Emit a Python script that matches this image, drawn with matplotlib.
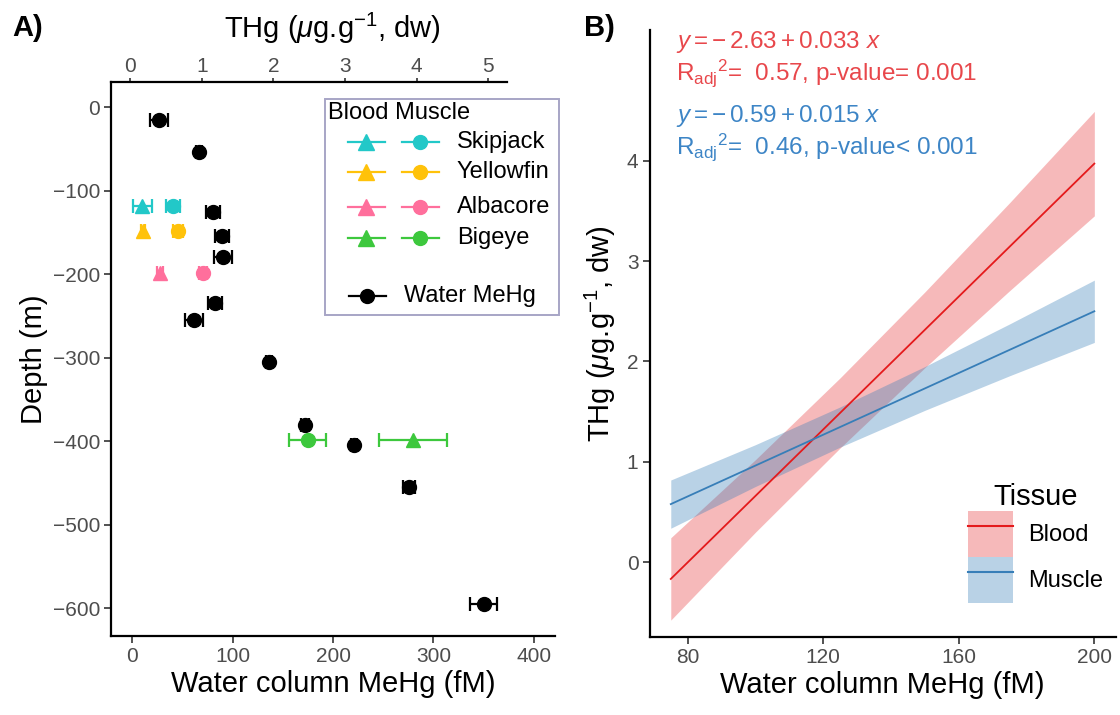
import matplotlib
matplotlib.use('Agg')
import matplotlib.pyplot as plt
from matplotlib.lines import Line2D
from matplotlib.patches import Patch, Rectangle
from matplotlib.legend_handler import HandlerTuple

plt.rcParams['font.family'] = ['Liberation Sans', 'DejaVu Sans']
plt.rcParams['mathtext.fontset'] = 'custom'
plt.rcParams['mathtext.rm'] = 'Liberation Sans'
plt.rcParams['mathtext.it'] = 'Liberation Sans:italic'
plt.rcParams['mathtext.bf'] = 'Liberation Sans:bold'

# ---- panel A data ----
water_mehg = [26.9, 66, 80.6, 89.6, 90.2, 82.3, 61.7, 136.3, 172.5, 220.6, 275.6, 350]
water_err = [9, 3, 7, 7, 9, 7, 9, 3, 4, 3, 6, 13.6]
water_depth = [-15, -54, -125, -154, -180, -235, -255, -305, -380, -405, -455, -595]

species = ['Skipjack', 'Yellowfin', 'Albacore', 'Bigeye']
species_colors = ['#22C8C8', '#FFC20A', '#FF6F9C', '#3DC83D']
species_depth = [-118, -148, -199, -399]
blood_thg = [0.17, 0.18, 0.415, 3.95]
blood_err = [0.13, 0.03, 0.04, 0.48]
muscle_thg = [0.60, 0.66, 1.02, 2.48]
muscle_err = [0.10, 0.07, 0.056, 0.26]

# THg (ug/g) <-> water MeHg (fM) scaling of the secondary axis
scale_k = 71.3
scale_off = 2.0

def thg_to_fm(v):
    return v * scale_k - scale_off

def fm_to_thg(v):
    return (v + scale_off) / scale_k

# ---- panel B data ----
fit_x = [75, 100, 125, 150, 175, 200]
blood_fit = [-0.165, 0.662, 1.489, 2.316, 3.143, 3.97]
blood_lo = [-0.575, 0.301, 1.14, 1.939, 2.705, 3.45]
blood_hi = [0.245, 1.023, 1.838, 2.693, 3.581, 4.49]
muscle_fit = [0.58, 0.964, 1.348, 1.732, 2.116, 2.50]
muscle_lo = [0.34, 0.756, 1.148, 1.514, 1.858, 2.19]
muscle_hi = [0.82, 1.172, 1.548, 1.95, 2.374, 2.81]

red = '#E41A1C'
blue = '#377EB8'
tick_col = '#4D4D4D'
tick_fs = 15
title_fs = 21
leg_fs = 17

fig = plt.figure(figsize=(11.2, 7.15), dpi=100)

# ================= panel A =================
ax = fig.add_axes([0.0991, 0.1105, 0.3964, 0.7748])
ax.errorbar(water_mehg, water_depth, xerr=water_err, fmt='o', color='black',
            ms=10, elinewidth=1.6, capsize=5, capthick=1.6, zorder=3)
for i in range(len(species)):
    c = species_colors[i]
    ax.errorbar(thg_to_fm(blood_thg[i]), species_depth[i], xerr=blood_err[i] * scale_k,
                fmt='^', color=c, ms=10, elinewidth=1.6, capsize=5, capthick=1.6, zorder=4)
    ax.errorbar(thg_to_fm(muscle_thg[i]), species_depth[i], xerr=muscle_err[i] * scale_k,
                fmt='o', color=c, ms=10, elinewidth=1.6, capsize=5, capthick=1.6, zorder=4)

ax.set_xlim(-21.2, 421)
ax.set_ylim(-633, 30)
ax.set_xticks([0, 100, 200, 300, 400])
ax.set_yticks([0, -100, -200, -300, -400, -500, -600])
ax.set_yticklabels(['0', '\u2212100', '\u2212200', '\u2212300', '\u2212400', '\u2212500', '\u2212600'])
ax.spines['top'].set_visible(False)
ax.spines['right'].set_visible(False)
for s in ['left', 'bottom']:
    ax.spines[s].set_linewidth(1.6)
ax.tick_params(color='#333333', labelsize=tick_fs, length=5, width=1.2, labelcolor=tick_col, pad=3)
ax.set_xlabel('Water column MeHg (fM)', fontsize=title_fs, labelpad=3)
ax.set_ylabel('Depth (m)', fontsize=title_fs, labelpad=3)

sec = ax.secondary_xaxis('top', functions=(fm_to_thg, thg_to_fm))
sec.set_xticks([0, 1, 2, 3, 4, 5])
sec.tick_params(color='#333333', labelsize=tick_fs, length=3, width=1.2, labelcolor=tick_col, pad=1)
sec.spines['top'].set_linewidth(1.6)
sec.spines['top'].set_bounds(fm_to_thg(-21.2), fm_to_thg(372.8))
sec.set_xlabel(r'THg ($\mu$g.g$^{-1}$, dw)', fontsize=title_fs, labelpad=14)

# hand-built legend box
tr = ax.transAxes
ax.add_patch(Rectangle((0.482, 0.579), 0.527, 0.390, transform=tr, fill=False,
                       edgecolor='#A7A5C6', lw=1.4, clip_on=False, zorder=5))
ax.text(0.489, 0.944, 'Blood Muscle', transform=tr, fontsize=leg_fs, va='center', ha='left')
row_y = [0.892, 0.838, 0.774, 0.718]
for i in range(len(species)):
    c = species_colors[i]
    ax.plot([0.534, 0.617], [row_y[i]] * 2, color=c, lw=1.6, transform=tr, clip_on=False)
    ax.plot([0.575], [row_y[i]], marker='^', color=c, ms=11, transform=tr, clip_on=False)
    ax.plot([0.655, 0.739], [row_y[i]] * 2, color=c, lw=1.6, transform=tr, clip_on=False)
    ax.plot([0.697], [row_y[i]], marker='o', color=c, ms=10, transform=tr, clip_on=False)
    ax.text(0.779, row_y[i], species[i], transform=tr, fontsize=leg_fs, va='center', ha='left')
ax.plot([0.536, 0.619], [0.614] * 2, color='black', lw=1.6, transform=tr, clip_on=False)
ax.plot([0.577], [0.614], marker='o', color='black', ms=10, transform=tr, clip_on=False)
ax.text(0.660, 0.614, 'Water MeHg', transform=tr, fontsize=leg_fs, va='center', ha='left')

fig.text(0.011, 0.961, 'A)', fontsize=21, fontweight='bold', va='center')

# ================= panel B =================
bx = fig.add_axes([0.580, 0.1095, 0.416, 0.8485])
bx.fill_between(fit_x, blood_lo, blood_hi, color=red, alpha=0.3, lw=0)
bx.fill_between(fit_x, muscle_lo, muscle_hi, color=blue, alpha=0.35, lw=0)
bx.plot(fit_x, blood_fit, color=red, lw=1.3)
bx.plot(fit_x, muscle_fit, color=blue, lw=1.3)
bx.set_xlim(68.75, 206.25)
bx.set_ylim(-0.74, 5.3)
bx.set_xticks([80, 120, 160, 200])
bx.set_yticks([0, 1, 2, 3, 4])
bx.spines['top'].set_visible(False)
bx.spines['right'].set_visible(False)
for s in ['left', 'bottom']:
    bx.spines[s].set_linewidth(1.6)
bx.tick_params(color='#333333', labelsize=tick_fs, length=5, width=1.2, labelcolor=tick_col, pad=3)
bx.set_xlabel('Water column MeHg (fM)', fontsize=title_fs, labelpad=3)
bx.set_ylabel(r'THg ($\mu$g.g$^{-1}$, dw)', fontsize=title_fs, labelpad=6)

red_txt = '#E8474B'
blue_txt = '#3D85C6'
ann_fs = 17.5
bx.text(76.5, 5.18, r'$y = -\,2.63 + 0.033\ x$', color=red_txt, fontsize=ann_fs, va='center')
bx.text(76.5, 4.87, r'$\mathrm{R_{adj}}^{2}$=  0.57, p-value= 0.001', color=red_txt, fontsize=ann_fs, va='center')
bx.text(76.5, 4.44, r'$y = -\,0.59 + 0.015\ x$', color=blue_txt, fontsize=ann_fs, va='center')
bx.text(76.5, 4.13, r'$\mathrm{R_{adj}}^{2}$=  0.46, p-value< 0.001', color=blue_txt, fontsize=ann_fs, va='center')

handles = [(Patch(facecolor=red, alpha=0.3, lw=0), Line2D([], [], color=red, lw=1.5)),
           (Patch(facecolor=blue, alpha=0.35, lw=0), Line2D([], [], color=blue, lw=1.5))]
leg = bx.legend(handles, ['Blood', 'Muscle'], title='Tissue', loc='lower left',
                bbox_to_anchor=(0.683, 0.055), frameon=False, fontsize=leg_fs, title_fontsize=title_fs,
                handlelength=1.9, handleheight=2.62, labelspacing=0.0, handletextpad=0.65,
                borderpad=0, borderaxespad=0,
                handler_map={tuple: HandlerTuple(ndivide=1, pad=0)})

fig.text(0.521, 0.961, 'B)', fontsize=21, fontweight='bold', va='center')

fig.savefig('out.png', dpi=100)
